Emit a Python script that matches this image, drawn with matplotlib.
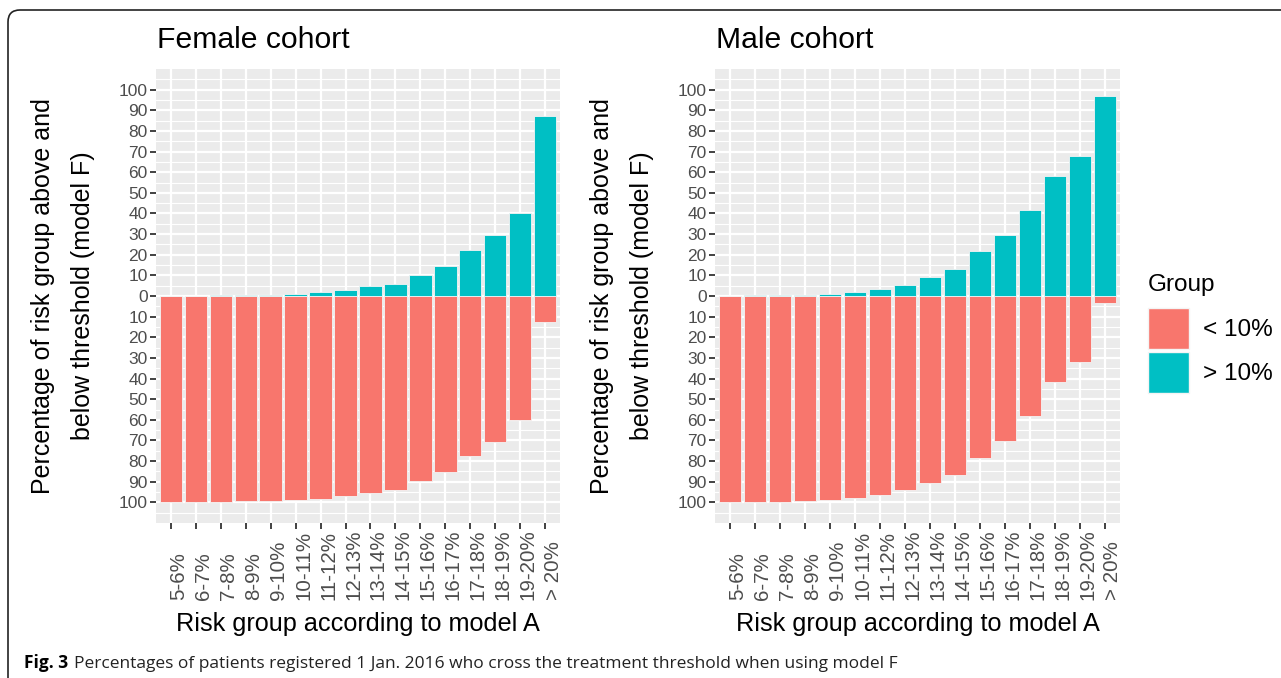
import numpy as np
import matplotlib
matplotlib.use('Agg')
import matplotlib.pyplot as plt
import matplotlib.transforms as mtransforms
from matplotlib.patches import Patch, FancyBboxPatch

plt.rcParams['font.family'] = ['Liberation Sans', 'DejaVu Sans']

# risk groups according to model A
risk_groups = ['5-6%', '6-7%', '7-8%', '8-9%', '9-10%', '10-11%', '11-12%', '12-13%',
               '13-14%', '14-15%', '15-16%', '16-17%', '17-18%', '18-19%', '19-20%', '> 20%']

# % of each group above / below the 10% threshold under model F
female_above = [0.0, 0.0, 0.5, 0.6, 0.6, 1.0, 2.0, 3.0, 4.7, 6.0, 10.0, 14.7, 22.5, 29.5, 40.0, 87.3]
female_below = [100.0, 99.7, 99.7, 99.4, 99.2, 98.9, 98.4, 97.1, 95.3, 93.9, 89.7, 85.3, 77.4, 70.6, 60.2, 12.7]
male_above = [0.0, 0.3, 0.3, 0.6, 1.1, 2.1, 3.5, 5.5, 9.3, 13.2, 21.6, 29.8, 41.7, 58.1, 67.8, 96.8]
male_below = [100.0, 99.7, 99.7, 99.4, 98.9, 98.1, 96.5, 94.2, 90.6, 86.6, 78.7, 70.5, 58.1, 41.8, 32.1, 3.4]

y_ticks = np.arange(-100, 101, 10)
y_tick_labels = [str(abs(v)) for v in y_ticks]
group_labels = ['< 10%', '> 10%']

RED = '#F8766D'
TEAL = '#00BFC4'
GREY_TXT = '#4D4D4D'

fig = plt.figure(figsize=(12.81, 6.78), dpi=100)


def cohort_panel(rect, title, above, below):
    ax = fig.add_axes(rect)
    x = np.arange(len(risk_groups))
    ax.set_facecolor('#EBEBEB')
    ax.bar(x, [-v for v in below], width=0.9, color=RED, edgecolor='#F4F4F4',
           linewidth=0.6, zorder=3)
    ax.bar(x, above, width=0.9, color=TEAL, edgecolor='#F4F4F4',
           linewidth=0.6, zorder=3)
    ax.set_xlim(-0.6, len(x) - 0.4)
    ax.set_ylim(-110, 110)
    ax.set_yticks(y_ticks)
    ax.set_yticklabels(y_tick_labels)
    ax.set_yticks(np.arange(-105, 110, 10), minor=True)
    ax.set_xticks(x)
    ax.set_xticklabels([])
    ax.grid(which='major', color='white', lw=1.6, zorder=1)
    ax.grid(which='minor', axis='y', color='white', lw=0.8, zorder=1)
    ax.set_axisbelow(True)
    for s in ax.spines.values():
        s.set_visible(False)
    ax.tick_params(which='major', length=4, width=1.3, color='#333333',
                   labelsize=12.5, labelcolor=GREY_TXT, pad=2)
    ax.tick_params(which='minor', length=0)

    # vertical group labels, aligned at their start like ggplot's
    offs = mtransforms.offset_copy(ax.get_xaxis_transform(), fig=fig, x=8, y=0, units='dots')
    for i, lab in enumerate(risk_groups):
        ax.text(i, -0.17, lab, rotation=90, ha='center', va='bottom',
                transform=offs, fontsize=14.8, color=GREY_TXT)

    ax.text(0.003, 1.046, title, transform=ax.transAxes, fontsize=21.7,
            ha='left', va='baseline')
    ax.text(-0.23, 0.5, 'Percentage of risk group above and\nbelow threshold (model F)',
            transform=ax.transAxes, rotation=90, ha='center', va='center',
            fontsize=18, linespacing=1.85, multialignment='center')
    ax.text(0.5, -0.238, 'Risk group according to model A', transform=ax.transAxes,
            fontsize=18.2, ha='center', va='baseline')
    return ax


cohort_panel([156 / 1281, 155 / 678, 404 / 1281, 454 / 678], 'Female cohort',
             female_above, female_below)
ax_m = cohort_panel([715 / 1281, 155 / 678, 405 / 1281, 454 / 678], 'Male cohort',
                    male_above, male_below)

# legend: title set apart from the keys
fig.text(1148 / 1281, 1 - 291 / 678, 'Group', fontsize=17.5, ha='left', va='baseline')
handles = [Patch(facecolor=RED, edgecolor='#F4F4F4'), Patch(facecolor=TEAL, edgecolor='#F4F4F4')]
fig.legend(handles, group_labels, loc='upper left',
           bbox_to_anchor=(1148 / 1281, 1 - 308 / 678), frameon=False,
           fontsize=17.5, handlelength=1.69, handleheight=2.22, labelspacing=0.12,
           handletextpad=0.58, borderpad=0, borderaxespad=0)

# rounded figure frame
frame = FancyBboxPatch((8, -30), 1320, 698, boxstyle='round,pad=0,rounding_size=12',
                       transform=mtransforms.IdentityTransform(), fill=False,
                       edgecolor='#222222', lw=1.2)
fig.patches.append(frame)

cap = fig.text(24 / 1281, 10 / 678, 'Fig. 3', family=['Open Sans', 'DejaVu Sans'],
               fontweight='bold', fontsize=12.5, va='baseline')
ax_m.annotate('Percentages of patients registered 1 Jan. 2016 who cross the treatment '
              'threshold when using model F', xy=(1, 0), xycoords=cap,
              xytext=(4, 0), textcoords='offset points', va='bottom',
              family=['Open Sans', 'DejaVu Sans'], fontsize=12.5, color='#222222')

fig.savefig('out.png', dpi=100)
